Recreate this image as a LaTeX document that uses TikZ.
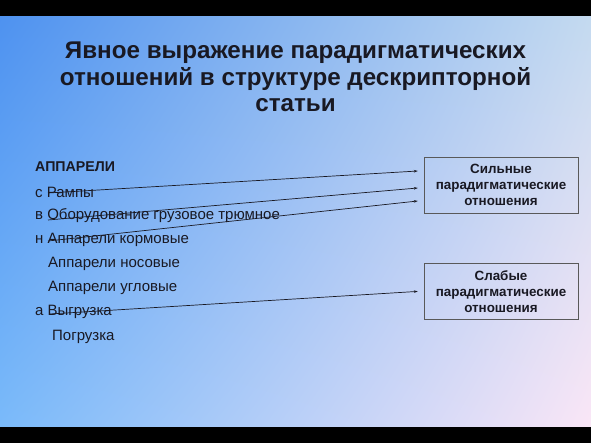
\documentclass[tikz,border=0pt]{standalone}
\usepackage{fontspec}
\setmainfont{Liberation Sans}
\usetikzlibrary{positioning, arrows.meta, calc, shadings}

\definecolor{bgtl}{RGB}{78,146,240}
\definecolor{bgtr}{RGB}{196,218,240}
\definecolor{bgbl}{RGB}{122,186,250}
\definecolor{bgbr}{RGB}{250,230,246}
\definecolor{ink}{RGB}{25,25,35}

\begin{document}
\begin{tikzpicture}[
  x=1pt, y=-1pt,
  item/.style={anchor=west, inner sep=0pt, text=ink, font=\fontsize{15}{17}\selectfont},
  relbox/.style={draw=black!65, minimum width=154pt, minimum height=56pt, inner sep=0pt,
    align=center, text=ink, font=\bfseries\fontsize{13.4}{16}\selectfont},
  link/.style={draw=ink, line width=0.7pt, -{Stealth[length=4pt,width=2.6pt]}}
]

% background
\fill[black] (0,0) rectangle (591,443);
\shade[upper left=bgtl, upper right=bgtr, lower left=bgbl, lower right=bgbr] (0,17) rectangle (591,426);
\useasboundingbox (0,0) rectangle (591,443);

\node (title) at (295.5,77) [align=center, text=ink, font=\bfseries\fontsize{24.2}{26.5}\selectfont]
  {Явное выражение парадигматических\\отношений в структуре дескрипторной\\статьи};

% list of descriptors
\node[item, font=\bfseries\fontsize{14.2}{16}\selectfont] (head) at (35,167) {АППАРЕЛИ};
\node[item] (ramp) at (35,192) {с Рампы};
\node[item] (hold) at (35,216) {в Оборудование грузовое трюмное};
\node[item] (stern) at (35,240) {н Аппарели кормовые};
\node[item] (bow) at (48,264) {Аппарели носовые};
\node[item] (corner) at (48,288) {Аппарели угловые};
\node[item] (unload) at (35,312) {а Выгрузка};
\node[item] (load) at (52,337) {Погрузка};

% relation boxes
\node[relbox] (strong) at (501,185) {Сильные\\парадигматические\\отношения};
\node[relbox, below=50pt of strong] (weak) {Слабые\\парадигматические\\отношения};

\coordinate (s1) at (48,193);
\coordinate (s2) at (48,220);
\coordinate (s3) at (48,241);
\coordinate (s4) at (50,314);
\coordinate (e1) at ($(strong.west)+(-6,-14)$);
\coordinate (e2) at ($(strong.west)+(-6,3)$);
\coordinate (e3) at ($(strong.west)+(-6,16)$);
\coordinate (e4) at ($(weak.west)+(-6,0)$);

\draw[link] (s1) -- (e1);
\draw[link] (s2) -- (e2);
\draw[link] (s3) -- (e3);
\draw[link] (s4) -- (e4);

\end{tikzpicture}
\end{document}
